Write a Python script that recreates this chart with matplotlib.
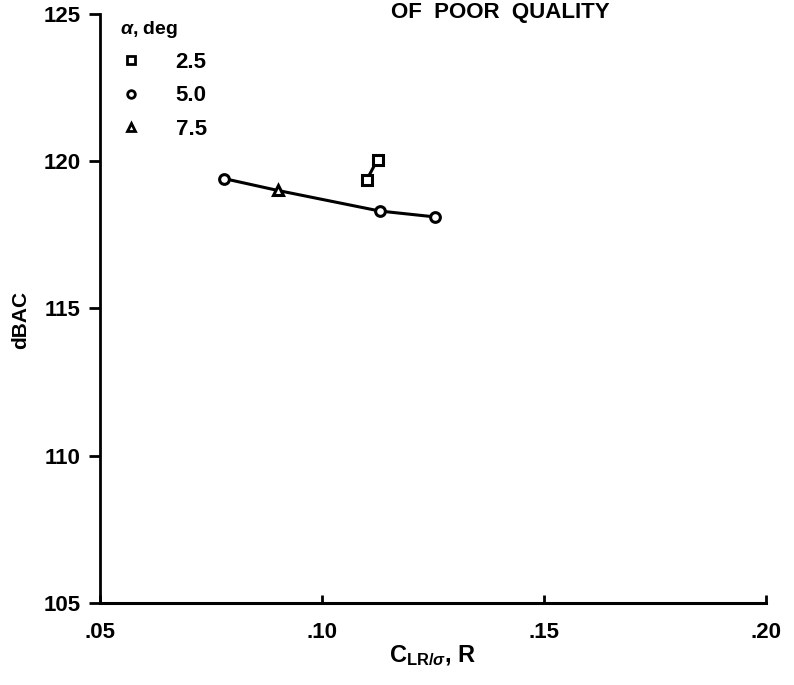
import numpy as np
import matplotlib
matplotlib.use("Agg")
import matplotlib.pyplot as plt
from matplotlib.lines import Line2D

plt.rcParams['font.family'] = ['Liberation Sans', 'DejaVu Sans']
plt.rcParams['font.weight'] = 'bold'
plt.rcParams['mathtext.fontset'] = 'custom'
plt.rcParams['mathtext.rm'] = 'Liberation Sans:bold'
plt.rcParams['mathtext.bf'] = 'Liberation Sans:bold'
plt.rcParams['mathtext.it'] = 'Liberation Sans:bold:italic'

# alpha = 5.0 deg (circles) and 7.5 deg (triangle) lie on one faired line
line_x = [0.078, 0.090, 0.113, 0.1255]
line_y = [119.4, 119.0, 118.3, 118.1]
line_alpha = [5.0, 7.5, 5.0, 5.0]
# alpha = 2.5 deg (squares)
sq_x = [0.110, 0.1125]
sq_y = [119.35, 120.05]

legend_alpha = ['2.5', '5.0', '7.5']
legend_marker = ['s', 'o', '^']

xticks = [0.05, 0.10, 0.15, 0.20]
xtick_labels = ['.05', '.10', '.15', '.20']
yticks = [105, 110, 115, 120, 125]

fig = plt.figure(figsize=(7.94, 6.85), dpi=100)
ax = fig.add_axes([0.126, 0.12, 0.839, 0.86])

ax.plot(line_x, line_y, color='black', lw=2.2, zorder=2)
for x, y, a in zip(line_x, line_y, line_alpha):
    m = 'o' if a == 5.0 else '^'
    ax.plot(x, y, marker=m, ms=7, mfc='white', mec='black', mew=2.2, ls='none', zorder=3)
ax.plot(sq_x, sq_y, color='black', lw=2.2, marker='s', ms=6.5, mfc='white', mec='black', mew=2.2, zorder=3)

ax.set_xlim(0.05, 0.20)
ax.set_ylim(105, 125)
ax.set_xticks(xticks)
ax.set_xticklabels(xtick_labels)
ax.set_yticks(yticks)
ax.spines['top'].set_visible(False)
ax.spines['right'].set_visible(False)
ax.spines['left'].set_linewidth(2)
ax.spines['bottom'].set_linewidth(2.2)
ax.tick_params(axis='x', direction='in', length=6, width=2, labelsize=16, pad=14)
ax.tick_params(axis='y', direction='out', length=8, width=2, labelsize=16, pad=6)
for lab in ax.get_xticklabels() + ax.get_yticklabels():
    lab.set_fontweight('bold')

ax.set_ylabel('dBAC', fontsize=15, fontweight='bold')
ax.yaxis.set_label_coords(-0.105, 0.48)
ax.set_xlabel(r'$\mathbf{C}_{\mathbf{LR/}\sigma}$, R', fontsize=17, fontweight='bold')
ax.xaxis.set_label_coords(0.5, -0.068)

handles = [Line2D([], [], marker=m, ls='none', ms=5.5, mfc='white', mec='black', mew=2)
           for m in legend_marker]
leg = ax.legend(handles, legend_alpha, title=r'$\alpha$, deg', loc='upper left',
                bbox_to_anchor=(0.0, 1.025), frameon=False, fontsize=16,
                title_fontsize=14, handletextpad=1.5, labelspacing=0.55, handlelength=1.0)
leg._legend_box.align = 'left'
for t in leg.get_texts():
    t.set_fontweight('bold')
leg.get_title().set_fontweight('bold')

fig.text(0.63, 0.982, 'OF  POOR  QUALITY', fontsize=16, fontweight='bold', ha='center', va='center')

fig.savefig('out.png', dpi=100)
